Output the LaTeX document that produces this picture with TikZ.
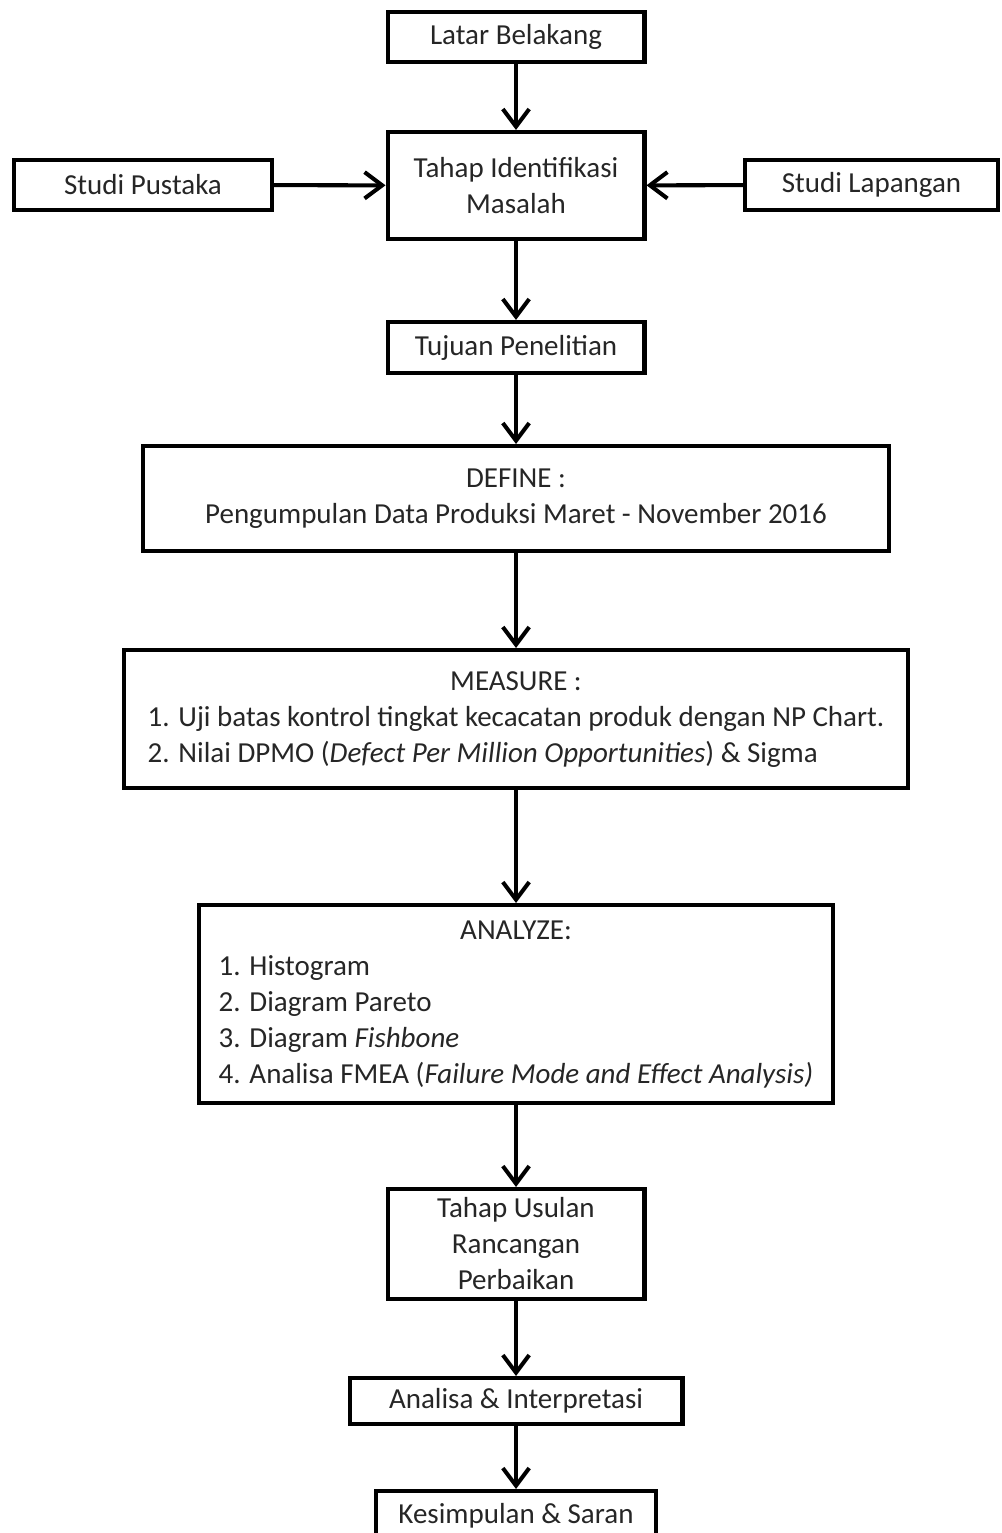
\documentclass[tikz,border=0pt]{standalone}
\usepackage{fontspec}
\setmainfont{Carlito}
\usetikzlibrary{arrows.meta}
\newcommand*{\boxfont}{\fontsize{16.5}{20.5}\selectfont\color{black!85}}
\newcommand{\steplist}[2]{%
   % heading centred over a left aligned list
   \begin{tabular}{@{}l@{}}
      \multicolumn{1}{@{}c@{}}{#1}\\
      #2
   \end{tabular}%
}

\begin{document}
\begin{tikzpicture}[
   x = 0.02cm,
   y = -0.02cm,
   box/.style  = {draw, line width = 2.3pt, font = \boxfont,
                  align = center, inner sep = 0pt},
   flow/.style = {-{Straight Barb[length=10pt, width=15pt]}, line width = 2.3pt}
]
   \useasboundingbox (0,0) rectangle (1001,1533);

   \node[box, minimum width = 5.14cm, minimum height = 1.00cm] (latar)
      at (516,37) {Latar Belakang};
   \node[box, minimum width = 5.14cm, minimum height = 2.14cm] (identifikasi)
      at (516,185.5) {Tahap Identifikasi\\Masalah};
   \node[box, minimum width = 5.16cm, minimum height = 1.00cm] (pustaka)
      at (143,185) {Studi Pustaka};
   \node[box, minimum width = 5.06cm, minimum height = 1.00cm] (lapangan)
      at (871.5,185) {Studi Lapangan};
   \node[box, minimum width = 5.14cm, minimum height = 1.02cm] (tujuan)
      at (516,347.5) {Tujuan Penelitian};
   \node[box, minimum width = 14.94cm, minimum height = 2.10cm] (define)
      at (516,498.5) {DEFINE :\\Pengumpulan Data Produksi Maret - November 2016};
   \node[box, minimum width = 15.68cm, minimum height = 2.76cm] (measure)
      at (516,719) {\steplist{MEASURE :}{%
         1. Uji batas kontrol tingkat kecacatan produk dengan NP Chart.\\
         2. Nilai DPMO (\textit{Defect Per Million Opportunities}) \& Sigma}};
   \node[box, minimum width = 12.68cm, minimum height = 3.96cm] (analyze)
      at (516,1004) {\steplist{ANALYZE:}{%
         1. Histogram\\
         2. Diagram Pareto\\
         3. Diagram \textit{Fishbone}\\
         4. Analisa FMEA (\textit{Failure Mode and Effect Analysis)}}};
   \node[box, minimum width = 5.14cm, minimum height = 2.20cm] (usulan)
      at (516,1244) {Tahap Usulan\\Rancangan\\Perbaikan};
   \node[box, minimum width = 6.66cm, minimum height = 0.92cm] (analisa)
      at (516,1401) {Analisa \& Interpretasi};
   \node[box, minimum width = 5.60cm, minimum height = 1.00cm] (kesimpulan)
      at (516,1516) {Kesimpulan \& Saran};

   % main flow
   \draw[flow] (latar) -- (identifikasi);
   \draw[flow] (pustaka) -- (identifikasi);
   \draw[flow] (lapangan) -- (identifikasi);
   \draw[flow] (identifikasi) -- (tujuan);
   \draw[flow] (tujuan) -- (define);
   \draw[flow] (define) -- (measure);
   \draw[flow] (measure) -- (analyze);
   \draw[flow] (analyze) -- (usulan);
   \draw[flow] (usulan) -- (analisa);
   \draw[flow] (analisa) -- (kesimpulan);
\end{tikzpicture}
\end{document}
